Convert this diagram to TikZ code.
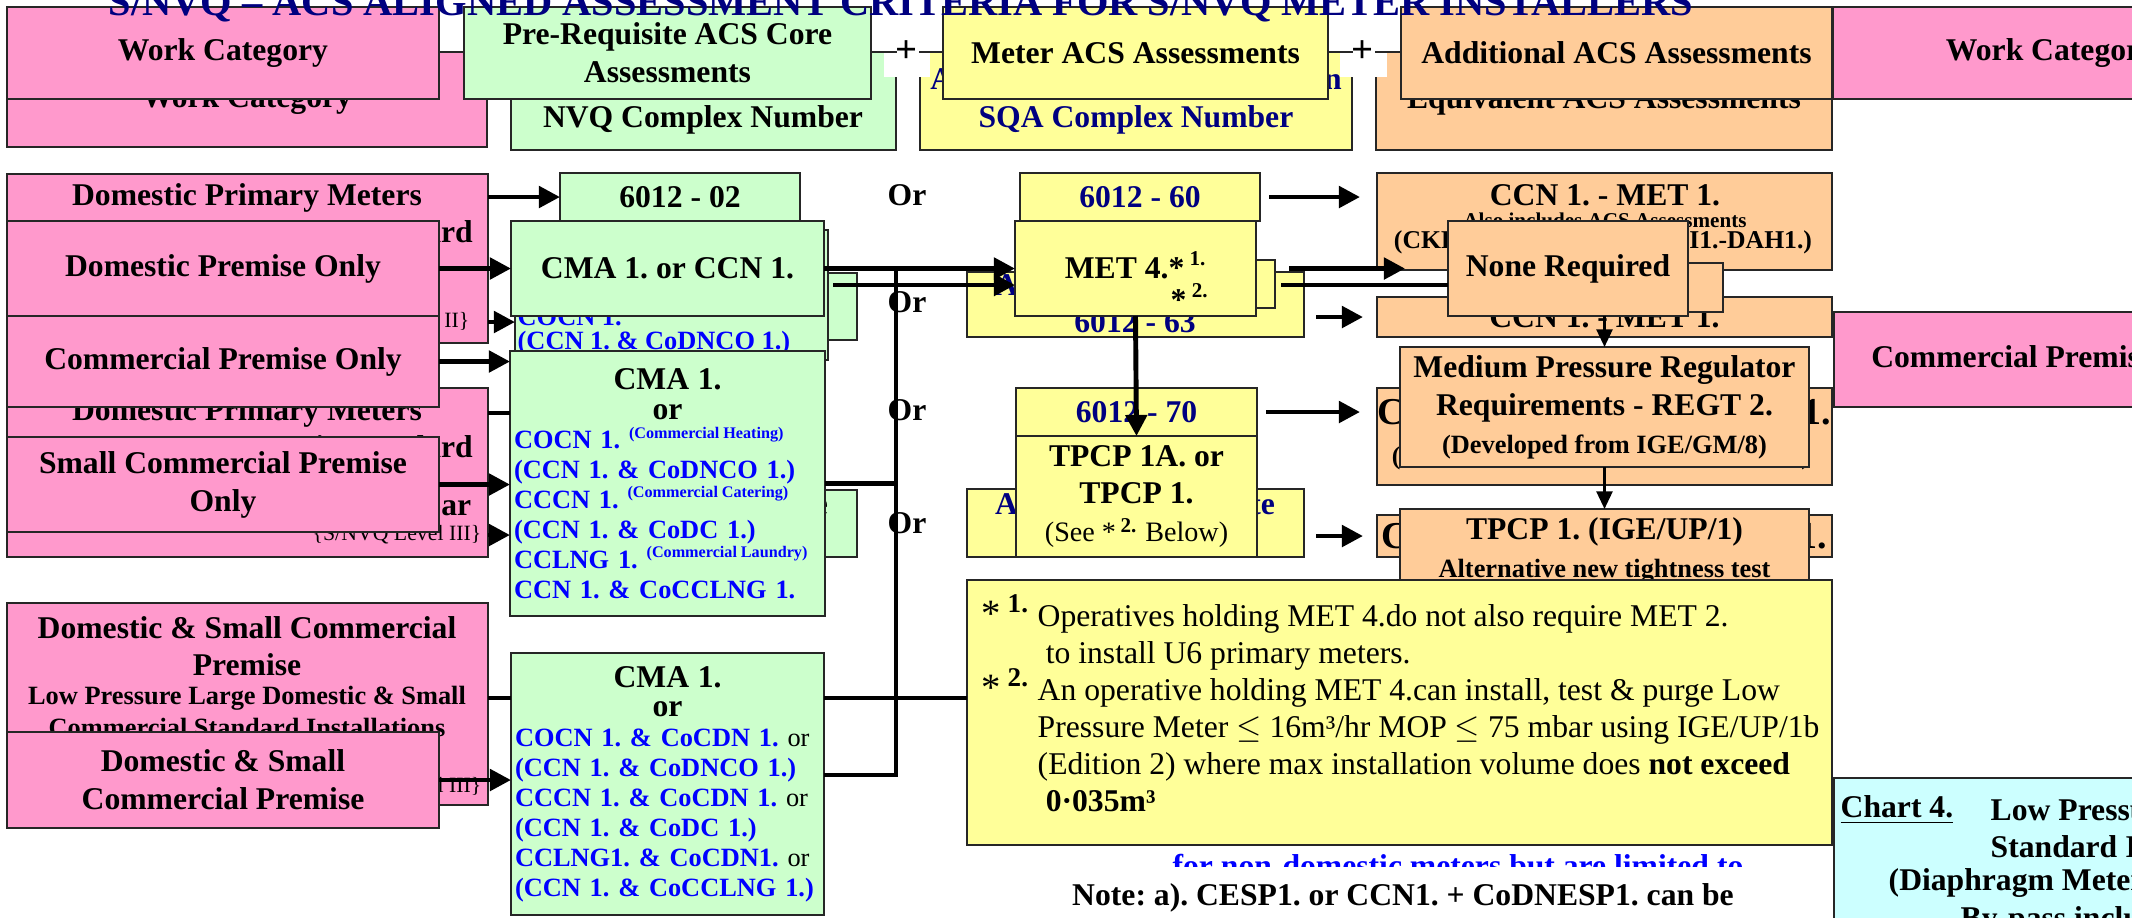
\documentclass[tikz,border=0pt]{standalone}
\usepackage{fontspec}
\setmainfont{Liberation Serif}
\usetikzlibrary{arrows.meta,calc}

\definecolor{pinkbg}{HTML}{FF99CC}
\definecolor{greenbg}{HTML}{CCFFCC}
\definecolor{yellowbg}{HTML}{FFFF99}
\definecolor{orangebg}{HTML}{FFCC99}
\definecolor{cyanbg}{HTML}{CCFFFF}
\definecolor{sqanavy}{HTML}{000080}
\definecolor{codeblue}{HTML}{0000FF}

\newcommand\fnine{\bfseries\fontsize{9}{10.8}\selectfont}
\newcommand\fsmall{\bfseries\fontsize{7.5}{8.5}\selectfont}
\newcommand\fbigline{\fontsize{9}{8.5}\selectfont}
\newcommand\sups[1]{\raisebox{0.9ex}{\fontsize{4.6}{5}\selectfont(Commercial\hspace{1.1pt}#1)}}
\newcommand\starmark[1]{\llap{\smash{\fontsize{11}{10.5}\selectfont*\,\textsuperscript{\bfseries #1}} }}

\tikzset{
    box/.style={draw=black!85, line width=0.6pt, inner sep=0pt, outer sep=0pt,
                anchor=north west, align=center, font=\fnine},
    wh/.style 2 args={minimum width=#1*0.01cm, minimum height=#2*0.01cm},
    pinkbox/.style={box, fill=pinkbg},
    greenbox/.style={box, fill=greenbg},
    yellowbox/.style={box, fill=yellowbg},
    orangebox/.style={box, fill=orangebg},
    lbl/.style={inner sep=0pt, font=\fnine, align=center},
    navylbl/.style={lbl, text=sqanavy},
    bluelbl/.style={lbl, font=\fsmall, text=codeblue},
    lvl/.style={inner sep=0pt, font=\mdseries\fontsize{6.2}{7}\selectfont},
    listbox/.style={font=\fsmall, align=left, text width=3.07cm, inner xsep=0.04cm},
    conn/.style={line width=1.4pt},
    arr/.style={conn, -{Triangle[length=6pt,width=6pt]}},
    tarr/.style={line width=0.8pt, -{Triangle[length=5pt,width=4.5pt]}}
}

\begin{document}
\frenchspacing
\begin{tikzpicture}[x=0.01cm, y=-0.01cm]
\useasboundingbox (0,0) rectangle (2132,917);
\clip (0,0) rectangle (2132,917);

% header, back row
\node[pinkbox, wh={480}{95}] (wcBack) at (7,52) {Work Category};
\node[greenbox, wh={385}{98}] (nvqBack) at (511,52) {};
\node[lbl] (nvqTxt) at (703,120) {NVQ Complex Number};
\node[yellowbox, wh={432}{98}, text=sqanavy] (sqaBack) at (920,52) {Alternative SQA Qualification\\SQA Complex Number};
\node[orangebox, wh={456}{98}] (addBack) at (1376,52) {Equivalent ACS Assessments};

% header, front row
\node[pinkbox, wh={432}{92}] (wcFront) at (7,7) {Work Category};
\node[greenbox, wh={407}{92}] (preFront) at (464,7) {Pre-Requisite ACS Core\\Assessments};
\node[yellowbox, wh={385}{92}] (meterFront) at (943,7) {Meter ACS Assessments};
\node[orangebox, wh={431}{92}] (addFront) at (1401,7) {Additional ACS Assessments};
\node[pinkbox, wh={436}{92}] (wcRight) at (1833,7) {Work Category};
\fill[white] (884,53) rectangle (930,77);
\fill[white] (1340,53) rectangle (1387,77);
\node[lbl, font=\bfseries\fontsize{11}{12}\selectfont] (plusA) at (907,52) {+};
\node[lbl, font=\bfseries\fontsize{11}{12}\selectfont] (plusB) at (1363,52) {+};

% work categories (back)
\node[pinkbox, wh={481}{169}] (dpmBackA) at (7,174) {};
\node[lbl] (dpmA1) at (247,198) {Domestic Primary Meters};
\node[lbl] (dpmA2) at (247,232) {Low Pressure Domestic Standard};
\node[lvl, anchor=east] (lvlA) at (470,322) {\{S/NVQ Level II\}};
\node[pinkbox, wh={481}{169}] (dpmBackB) at (7,388) {};
\node[lbl] (dpmB1) at (247,413) {Domestic Primary Meters};
\node[lbl] (dpmB2) at (247,447) {Low Pressure Domestic Standard};
\node[lbl, anchor=east] (dpmB3) at (472,507) {Installations MOP $\le$ 75 mbar};
\node[lvl, anchor=east] (lvlB) at (482,535) {\{S/NVQ Level III\}};
\node[pinkbox, wh={481}{202}] (dsBack) at (7,603) {};
\node[lbl] (dsB1) at (247,628) {Domestic \& Small Commercial};
\node[lbl] (dsB2) at (247,665) {Premise};
\node[lbl, font=\fsmall] (dsB3) at (247,698) {Low Pressure Large Domestic \& Small};
\node[lbl, font=\fsmall] (dsB4) at (247,727) {Commercial Standard Installations};
\node[lvl, anchor=east] (lvlC) at (482,787) {\{S/NVQ Level III\}};

% work categories (front)
\node[pinkbox, wh={432}{95}] (domOnly) at (7,221) {Domestic Premise Only};
\node[pinkbox, wh={432}{91}] (comOnly) at (7,316) {Commercial Premise Only};
\node[pinkbox, wh={432}{95}] (smallOnly) at (7,437) {Small Commercial Premise\\Only};
\node[pinkbox, wh={432}{96}] (dsFront) at (7,732) {Domestic \& Small\\Commercial Premise};

% pre-requisite core assessments
\node[greenbox, wh={240}{48}] (core02) at (560,173) {6012 - 02};
\node[greenbox, wh={337}{67}] (altG1) at (520,273) {};
\node[lbl] (altG1t) at (688,292) {Approved Substitute};
\node[greenbox, wh={337}{67}] (altG2) at (520,490) {};
\node[lbl] (altG2t) at (688,507) {Approved Substitute};
\node[greenbox, wh={313}{130}] (coreDom) at (515,230) {};
\node[bluelbl, anchor=west] (coreDom1) at (517,317) {COCN 1.};
\node[bluelbl, anchor=west] (coreDom2) at (517,343) {(CCN 1. \& CoDNCO 1.)};
\node[greenbox, wh={313}{95}] (cmaCcn) at (511,221) {CMA 1. or CCN 1.};
\node[greenbox, listbox, wh={315}{265}] (coreCom) at (510,351) {%
  \hfill{\fbigline CMA 1.}\hfill\null\\
  \hfill{\fbigline or}\hfill\null\\
  \textcolor{codeblue}{COCN 1. \sups{Heating}}\\
  \textcolor{codeblue}{(CCN 1. \& CoDNCO 1.)}\\
  \textcolor{codeblue}{CCCN 1. \sups{Catering}}\\
  \textcolor{codeblue}{(CCN 1. \& CoDC 1.)}\\
  \textcolor{codeblue}{CCLNG 1. \sups{Laundry}}\\
  \textcolor{codeblue}{CCN 1. \& CoCCLNG 1.}};
\node[greenbox, listbox, wh={313}{262}, text width=3.05cm] (coreDS) at (511,653) {%
  \hfill{\fbigline CMA 1.}\hfill\null\\
  \hfill{\fbigline or}\hfill\null\\
  \textcolor{codeblue}{COCN 1. \& CoCDN 1.} \textmd{or}\\
  \textcolor{codeblue}{(CCN 1. \& CoDNCO 1.)}\\
  \textcolor{codeblue}{CCCN 1. \& CoCDN 1.} \textmd{or}\\
  \textcolor{codeblue}{(CCN 1. \& CoDC 1.)}\\
  \textcolor{codeblue}{CCLNG1. \& CoCDN1.} \textmd{or}\\
  \textcolor{codeblue}{(CCN 1. \& CoCCLNG 1.)}};

\foreach \y [count=\i] in {195,302,410,523}
  \node[lbl] (or\i) at (907,\y) {Or};

% meter assessments
\node[yellowbox, wh={240}{48}, text=sqanavy] (met60) at (1020,173) {6012 - 60};
\node[yellowbox, wh={337}{65}] (altY1) at (967,272) {};
\node[navylbl] (altY1a) at (1135,288) {Approved Substitute};
\node[navylbl] (altY1b) at (1135,322) {6012 - 63};
\node[yellowbox, wh={75}{48}] (tabY) at (1200,260) {};
\node[yellowbox, wh={241}{95}] (met4) at (1015,221) {};
\node[lbl] (met4a) at (1136,265) {MET 4.*\,\textsuperscript{1.}};
\node[lbl] (met4b) at (1190,297) {*\,\textsuperscript{2.}};
\node[yellowbox, wh={241}{48}, text=sqanavy] (met70) at (1016,388) {6012 - 70};
\node[yellowbox, wh={337}{68}] (altY2) at (967,489) {};
\node[navylbl] (altY2a) at (1135,507) {Approved Substitute};
\node[yellowbox, wh={241}{121}] (tpcpY) at (1016,436) {TPCP 1A. or\\TPCP 1.\\{\mdseries\fontsize{8}{9}\selectfont (See *\,\textsuperscript{\bfseries 2.} Below)}};

% additional assessments
\node[orangebox, wh={455}{97}] (addA) at (1377,173) {};
\node[lbl] (addA1) at (1605,195) {CCN 1. - MET 1.};
\node[lbl, font=\bfseries\fontsize{6}{7}\selectfont] (addA2) at (1605,220) {Also includes ACS Assessments};
\node[lbl, font=\bfseries\fontsize{7.3}{8}\selectfont] (addA3) at (1603,242) {(CKR1.-HTR1.-WAT1.-LEI1.-DAH1.)};
\node[orangebox, wh={455}{40}] (addB) at (1377,297) {CCN 1. - MET 1.};
\node[orangebox, wh={63}{49}] (tabO) at (1660,263) {};
\node[orangebox, wh={240}{95}] (noneReq) at (1448,221) {None Required};
\node[orangebox, wh={455}{97}] (addC) at (1377,388) {};
\node[lbl, font=\bfseries\fontsize{10.8}{12}\selectfont] (addC1) at (1604,412) {CCN 1. - MET 1. - REGT 1.};
\node[lbl, font=\bfseries\fontsize{7.3}{8}\selectfont] (addC2) at (1601,458) {(CKR1.-HTR1.-WAT1.-LEI1.-DAH1.)};
\node[orangebox, wh={409}{120}] (regt) at (1400,347) {Medium Pressure Regulator\\Requirements - REGT 2.\\{\fontsize{7.5}{9}\selectfont (Developed from IGE/GM/8)}};
\node[orangebox, wh={455}{42}, font=\bfseries\fontsize{10.8}{12}\selectfont] (addD) at (1377,515) {CCN 1. - MET 1. - TPCP 1.};
\node[orangebox, wh={409}{82}] (tight) at (1400,509) {TPCP 1. (IGE/UP/1)\\{\fsmall Alternative new tightness test}};
\node[pinkbox, wh={432}{95}] (comRight) at (1834,312) {Commercial Premise Only};

% connectors, left
\draw[arr] (dpmBackA.east |- core02.west) -- (core02.west);
\draw[arr] (domOnly.east) -- (cmaCcn.west);
\draw[arr] (lvlA.east -| dpmBackA.east) -- (lvlA.east -| coreDom.west);
\draw[arr] (comOnly.east) -- (comOnly.east -| coreCom.west);
\draw[conn] (dpmB1 -| dpmBackB.east) -- (dpmB1 -| coreCom.west);
\draw[arr] (smallOnly.east) -- (smallOnly.east -| coreCom.west);
\draw[arr] (lvlB.east -| dpmBackB.east) -- (lvlB.east -| coreCom.west);
\draw[conn] (dsB3 -| dsBack.east) -- (dsB3 -| coreDS.west);
\draw[arr] (dsFront.east) -- (dsFront.east -| coreDS.west);

% connectors, core to meter
\coordinate (busTop) at (896,268.5);
\coordinate (busBot) at (896,775);
\coordinate (altStart) at (833,285);
\draw[arr] (cmaCcn.east) -- (met4.west);
\draw[arr] (altStart) -- (altStart -| met4.west);
\draw[conn] (busTop) -- (busBot) -- (busBot -| coreDS.east);
\draw[conn] (coreCom.east) -- (coreCom.east -| busTop);

% connectors, meter to additional
\draw[arr] ($(met4.east -| tabY.east)+(14,0)$) -- ($(met4.east -| addA.west)+(28,0)$);
\draw[conn] ($(altStart -| tabY.east)+(6,0)$) -- (altStart -| noneReq.west);
\draw[arr] ($(met60.east)+(9,0)$) -- ($(met60.east -| addA.west)+(-17,0)$);
\draw[arr] ($(addB.west -| altY1.east)+(12,0)$) -- ($(addB.west)+(-14,0)$);
\draw[arr] ($(met70.east)+(9,0)$) -- ($(met70.east -| addC.west)+(-17,0)$);
\draw[arr] ($(addD.west -| altY2.east)+(12,0)$) -- ($(addD.west)+(-14,0)$);
\draw[arr] (met4.south) -- (tpcpY.north);
\draw[tarr] (noneReq.south -| regt.north) -- (regt.north);
\draw[tarr] (regt.south) -- (tight.north);

% footnotes
\node[yellowbox, wh={865}{265}] (notes) at (967,580) {};
\draw[conn] (dsB3 -| coreDS.east) -- (dsB3 -| notes.west);
\node[inner sep=0pt, align=left, anchor=north west, font=\mdseries\fontsize{9}{10.5}\selectfont] (notesTxt) at (1037,604) {%
  \starmark{1.}Operatives holding MET 4.do not also require MET 2.\\
  \hspace*{2.3pt}to install U6 primary meters.\\
  \starmark{2.}An operative holding MET 4.can install, test \& purge Low\\
  Pressure Meter $\le$ 16m³/hr MOP $\le$ 75 mbar using IGE/UP/1b\\
  (Edition 2) where max installation volume does \textbf{not exceed}\\
  \hspace*{2.3pt}\textbf{0·035m³}};
\node[lbl, text=codeblue] (limTxt) at (1458,866) {for non-domestic meters but are limited to};
\node[lbl, fill=white, minimum width=7cm, minimum height=0.62cm] (noteA) at (1403,898) {Note: a). CESP1. or CCN1. + CoDNESP1. can be};

% chart title box
\node[box, fill=cyanbg, wh={460}{200}] (chart) at (1834,778) {};
\node[lbl, anchor=west] (chart1) at (1840,810) {\underline{Chart 4.}};
\node[lbl, anchor=west] (chart2) at (1990,810) {Low Pressure Domestic};
\node[lbl, anchor=west] (chart3) at (1990,847) {Standard Installations};
\node[lbl, anchor=west] (chart4) at (1888,883) {(Diaphragm Meters $\le$ 6m³/hr)};
\node[lbl, anchor=west] (chart5) at (1960,921) {By-pass included};

% page title
\node[inner sep=0pt, anchor=base, text=sqanavy, font=\bfseries\fontsize{11.5}{13}\selectfont] (title) at (901,15)
  {S/NVQ – ACS ALIGNED ASSESSMENT CRITERIA FOR S/NVQ METER INSTALLERS};
\end{tikzpicture}
\end{document}
